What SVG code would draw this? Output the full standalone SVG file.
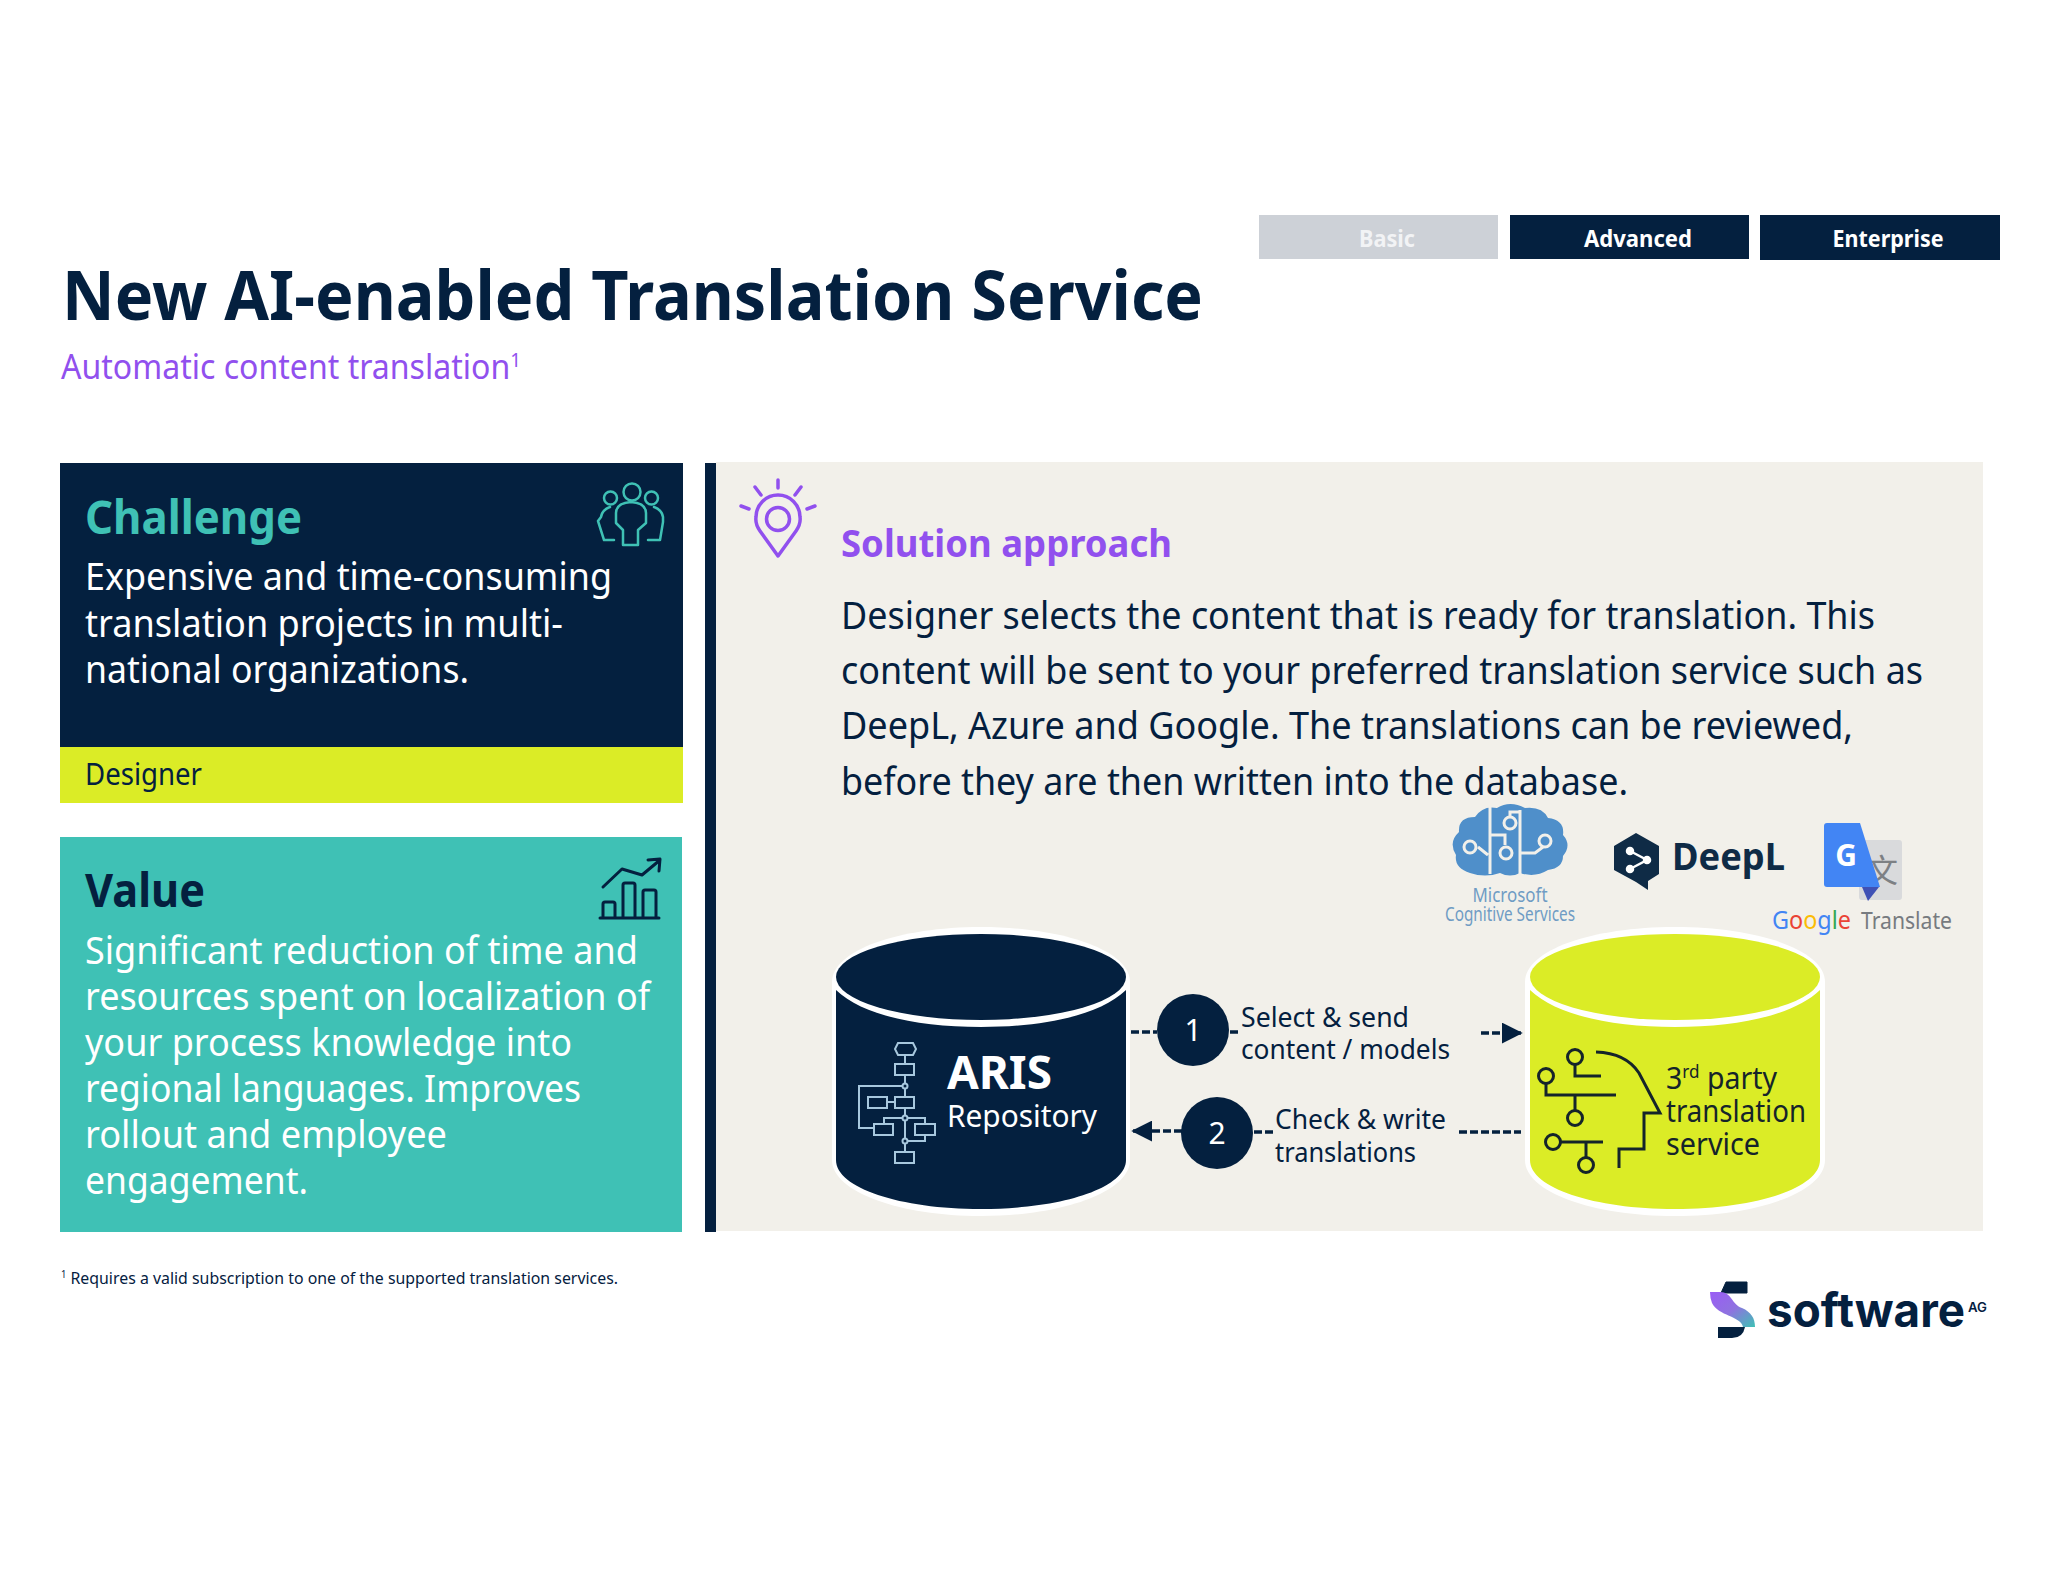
<svg xmlns="http://www.w3.org/2000/svg" width="2048" height="1582" viewBox="0 0 2048 1582">
<style>
text{font-family:"Noto Sans","Open Sans","Liberation Sans",sans-serif;fill:#04203f}
.b{font-weight:700}
.w{fill:#fff}
.t{fill:#3fc1b5}
.p{fill:#9150ee}
.body{font-size:38px}
.lbl{font-size:28px}
.tab{font-size:23px;font-weight:700;fill:#fff;text-anchor:middle}
.ic{fill:none;stroke-linecap:round;stroke-linejoin:round}
.dash{fill:none;stroke:#04203f;stroke-width:3.5;stroke-dasharray:8 3}
.fl{fill:none;stroke:#a8c8de;stroke-width:2}
.hd{fill:none;stroke:#15242a;stroke-width:3}
</style>
<defs>
<marker id="ah" markerWidth="6" markerHeight="6" refX="5.5" refY="3" orient="auto" markerUnits="strokeWidth"><path d="M0,0L6,3L0,6Z" fill="#04203f"/></marker>
<linearGradient id="lg" x1="0" y1="0" x2="1" y2="1"><stop offset="0" stop-color="#9a5cf5"/><stop offset="0.5" stop-color="#8f72e0"/><stop offset="1" stop-color="#3fc1b5"/></linearGradient>
</defs>
<rect width="2048" height="1582" fill="#fff"/>
<g id="header">
<text x="62" y="320" class="b" font-size="68" textLength="1141" lengthAdjust="spacingAndGlyphs">New AI-enabled Translation Service</text>
<text x="61" y="379" class="p" font-size="34" textLength="460" lengthAdjust="spacingAndGlyphs">Automatic content translation<tspan font-size="20" dy="-12">1</tspan></text>
</g>
<g id="tab-basic"><rect x="1259" y="215" width="239" height="44" fill="#cdd1d7"/><text x="1387" y="247" class="tab" textLength="56" lengthAdjust="spacingAndGlyphs" fill-opacity=".75">Basic</text></g>
<g id="tab-advanced"><rect x="1510" y="215" width="239" height="44" fill="#04203f"/><text x="1638" y="247" class="tab" textLength="108" lengthAdjust="spacingAndGlyphs">Advanced</text></g>
<g id="tab-enterprise"><rect x="1760" y="215" width="240" height="45" fill="#04203f"/><text x="1888" y="247" class="tab" textLength="111" lengthAdjust="spacingAndGlyphs">Enterprise</text></g>
<g id="challenge">
<rect x="60" y="463" width="623" height="285" fill="#04203f"/>
<rect x="60" y="747" width="623" height="56" fill="#dbec26"/>
<text x="85" y="534" class="b t" font-size="46" textLength="217" lengthAdjust="spacingAndGlyphs">Challenge</text>
<text x="85" y="590" class="w body" textLength="527" lengthAdjust="spacingAndGlyphs">Expensive and time-consuming</text>
<text x="85" y="637" class="w body" textLength="478" lengthAdjust="spacingAndGlyphs">translation projects in multi-</text>
<text x="85" y="683" class="w body" textLength="384" lengthAdjust="spacingAndGlyphs">national organizations.</text>
<text x="85" y="785" font-size="30" textLength="117" lengthAdjust="spacingAndGlyphs">Designer</text>
<g class="ic" stroke="#3fc1b5" stroke-width="2.5">
<circle cx="632" cy="492" r="8.5"/><circle cx="610.500" cy="498" r="6.500"/><circle cx="651.500" cy="498" r="6.500"/>
<path d="M623,545V530L616,523V513Q616,503 631,502Q646,503 646,513V523L638,530V545Z"/>
<path d="M610,507Q602,510 601,517L598,521L604,540H614M654,507Q662,510 663,517L663,522L660,540H648"/>
</g>
</g>
<g id="value">
<rect x="60" y="837" width="622" height="395" fill="#3fc1b5"/>
<text x="85" y="907" class="b" font-size="46" textLength="120" lengthAdjust="spacingAndGlyphs">Value</text>
<text x="85" y="964" class="w body" textLength="553" lengthAdjust="spacingAndGlyphs">Significant reduction of time and</text>
<text x="85" y="1010" class="w body" textLength="565" lengthAdjust="spacingAndGlyphs">resources spent on localization of</text>
<text x="85" y="1056" class="w body" textLength="487" lengthAdjust="spacingAndGlyphs">your process knowledge into</text>
<text x="85" y="1102" class="w body" textLength="496" lengthAdjust="spacingAndGlyphs">regional languages. Improves</text>
<text x="85" y="1148" class="w body" textLength="362" lengthAdjust="spacingAndGlyphs">rollout and employee</text>
<text x="85" y="1194" class="w body" textLength="223" lengthAdjust="spacingAndGlyphs">engagement.</text>
<g class="ic" stroke="#04203f" stroke-width="3">
<path d="M600,918H659M603,918V904Q603,902 605,902H613Q615,902 615,904V918M623,918V885Q623,883 625,883H633Q635,883 635,885V918M643,918V892Q643,890 645,890H654Q656,890 656,892V918"/>
<path d="M603,887L622,869L642,875L660,860M648,860L660,859L659,871"/>
</g>
</g>
<g id="solution-panel">
<rect x="705" y="463" width="11" height="769" fill="#04203f"/>
<rect x="716" y="462" width="1267" height="769" fill="#f2f0ea"/>
<g class="ic" stroke="#9150ee" stroke-width="3.500">
<path d="M778,556L760,531Q755,524 756,517A22,22 0 0 1 800,517Q801,524 796,531Z"/>
<circle cx="778" cy="519" r="11.500"/>
<path d="M778,480V488M755,487L761,495M801,487L795,495M741,506L749,509M815,506L807,509"/>
</g>
<text x="841" y="557" class="b p" font-size="38" textLength="331" lengthAdjust="spacingAndGlyphs">Solution approach</text>
<text x="841" y="629" class="body" textLength="1034" lengthAdjust="spacingAndGlyphs">Designer selects the content that is ready for translation. This</text>
<text x="841" y="684" class="body" textLength="1082" lengthAdjust="spacingAndGlyphs">content will be sent to your preferred translation service such as</text>
<text x="841" y="739" class="body" textLength="1012" lengthAdjust="spacingAndGlyphs">DeepL, Azure and Google. The translations can be reviewed,</text>
<text x="841" y="795" class="body" textLength="787" lengthAdjust="spacingAndGlyphs">before they are then written into the database.</text>
</g>
<g id="logo-microsoft">
<path d="M1470,873Q1454,868 1456,855Q1448,842 1459,832Q1458,817 1475,817Q1483,805 1497,808Q1510,800 1525,808Q1542,806 1548,818Q1565,820 1563,835Q1572,845 1563,856Q1563,868 1548,870Q1535,878 1520,873Q1510,878 1500,873Q1485,878 1470,873Z" fill="#4f8fca"/>
<g fill="none" stroke="#f2f0ea" stroke-width="3">
<path d="M1490,805V874M1490,835H1505V845M1488,855L1478,847"/>
<path d="M1520,810V874M1510,816V812H1520M1520,853H1535L1543,847"/>
<circle cx="1510" cy="823" r="6"/><circle cx="1470" cy="847" r="6"/><circle cx="1506" cy="853" r="6"/><circle cx="1545" cy="841" r="6"/>
</g>
<text x="1510" y="902" text-anchor="middle" font-size="20" style="fill:#6f9cc4" textLength="75" lengthAdjust="spacingAndGlyphs">Microsoft</text>
<text x="1510" y="921" text-anchor="middle" font-size="20" style="fill:#6f9cc4" textLength="130" lengthAdjust="spacingAndGlyphs">Cognitive Services</text>
</g>
<g id="logo-deepl">
<path d="M1636,833L1659,846V874L1648,881V890L1636,882L1614,870V846Z" fill="#0f2b46"/>
<g stroke="#fff" stroke-width="2.500" fill="#fff"><path d="M1630,851L1647,860L1630,869" fill="none"/><circle cx="1630" cy="851" r="3"/><circle cx="1647" cy="860" r="3"/><circle cx="1630" cy="869" r="3"/></g>
<text x="1672" y="870" class="b" font-size="38" style="fill:#0f2b46" textLength="113" lengthAdjust="spacingAndGlyphs">DeepL</text>
</g>
<g id="logo-google">
<rect x="1859" y="840" width="43" height="60" rx="3" fill="#d9dadc"/>
<text x="1882" y="882" text-anchor="middle" font-size="32" style="font-family:'Noto Sans CJK SC',sans-serif;fill:#7d8084">文</text>
<path d="M1862,887L1879,887L1868,901Z" fill="#3f51b5"/>
<path d="M1827,823H1860L1880,887H1827Q1824,887 1824,884V826Q1824,823 1827,823Z" fill="#4285f4"/>
<text x="1846" y="866" text-anchor="middle" class="b w" font-size="30">G</text>
<text x="1772" y="929" font-size="26" textLength="79" lengthAdjust="spacingAndGlyphs"><tspan style="fill:#4285f4">G</tspan><tspan style="fill:#ea4335">o</tspan><tspan style="fill:#fbbc05">o</tspan><tspan style="fill:#4285f4">g</tspan><tspan style="fill:#34a853">l</tspan><tspan style="fill:#ea4335">e</tspan></text>
<text x="1861" y="929" font-size="24" style="fill:#777b80" textLength="91" lengthAdjust="spacingAndGlyphs">Translate</text>
</g>
<g id="aris-repository">
<path d="M832,982C832,950 900,927 981,927C1062,927 1130,950 1130,982V1160C1130,1192 1062,1216 981,1216C900,1216 832,1192 832,1160Z" fill="#fff"/>
<path d="M836,990V1160C836,1188 900,1209 981,1209C1062,1209 1126,1188 1126,1160V990C1100,1015 1045,1027 981,1027C917,1027 862,1015 836,990Z" fill="#04203f"/>
<ellipse cx="981" cy="977" rx="145" ry="43" fill="#04203f"/>
<g>
<path class="fl" d="M898,1043H913L916,1049L913,1055H898L895,1049ZM905,1055V1064"/>
<rect class="fl" x="895" y="1064" width="19" height="11"/><path class="fl" d="M905,1075V1083M905,1089V1097"/>
<circle class="fl" cx="905" cy="1086" r="2.500"/>
<rect class="fl" x="895" y="1097" width="19" height="11"/><rect class="fl" x="868" y="1097" width="19" height="11"/><path class="fl" d="M887,1102H895M905,1108V1115"/>
<circle class="fl" cx="905" cy="1118" r="2.500"/>
<path class="fl" d="M902,1118H884V1124M908,1118H925V1124M905,1121V1138"/>
<rect class="fl" x="874" y="1124" width="19" height="11"/><rect class="fl" x="915" y="1124" width="20" height="11"/>
<path class="fl" d="M874,1128H859V1086H902M925,1135V1141H908"/>
<circle class="fl" cx="905" cy="1141" r="2.500"/><path class="fl" d="M905,1144V1152"/>
<rect class="fl" x="895" y="1152" width="19" height="11"/>
</g>
<text x="947" y="1089" class="b w" font-size="46" textLength="105" lengthAdjust="spacingAndGlyphs">ARIS</text>
<text x="947" y="1127" class="w" font-size="31" textLength="150" lengthAdjust="spacingAndGlyphs">Repository</text>
</g>
<g id="third-party">
<path d="M1525,982C1525,950 1592,927 1675,927C1758,927 1825,950 1825,982V1160C1825,1192 1758,1216 1675,1216C1592,1216 1525,1192 1525,1160Z" fill="#fff"/>
<path d="M1530,990V1160C1530,1188 1594,1209 1675,1209C1756,1209 1820,1188 1820,1160V990C1794,1015 1739,1027 1675,1027C1611,1027 1556,1015 1530,990Z" fill="#dbec26"/>
<ellipse cx="1675" cy="977" rx="145" ry="43" fill="#dbec26"/>
<g class="hd">
<circle cx="1575" cy="1057" r="7.500"/><path d="M1575,1064V1076H1601"/>
<path d="M1596,1052Q1626,1053 1639,1073L1660,1113H1644V1149H1619V1168"/>
<circle cx="1546" cy="1076" r="7.500"/><path d="M1546,1083V1095H1616M1575,1095V1111"/>
<circle cx="1575" cy="1118" r="7.500"/>
<circle cx="1553" cy="1142" r="7.500"/><path d="M1561,1142H1603M1586,1142V1158"/>
<circle cx="1586" cy="1165" r="7.500"/>
</g>
<text x="1666" y="1089" font-size="30" style="fill:#15242a" textLength="111" lengthAdjust="spacingAndGlyphs">3<tspan font-size="18" dy="-11">rd</tspan><tspan dy="11"> party</tspan></text>
<text x="1666" y="1122" font-size="30" style="fill:#15242a" textLength="140" lengthAdjust="spacingAndGlyphs">translation</text>
<text x="1666" y="1155" font-size="30" style="fill:#15242a" textLength="94" lengthAdjust="spacingAndGlyphs">service</text>
</g>
<g id="connectors">
<path class="dash" d="M1131,1032H1157M1230,1032H1240"/>
<path class="dash" d="M1481,1033H1521" marker-end="url(#ah)"/>
<path class="dash" d="M1182,1131H1133" marker-end="url(#ah)"/>
<path class="dash" d="M1254,1132H1274M1459,1132H1521"/>
</g>
<g id="step-1"><circle cx="1193" cy="1030" r="36" fill="#04203f"/><text x="1193" y="1041" text-anchor="middle" class="w" font-size="30">1</text>
<text x="1241" y="1027" class="lbl" textLength="168" lengthAdjust="spacingAndGlyphs">Select &amp; send</text>
<text x="1241" y="1059" class="lbl" textLength="209" lengthAdjust="spacingAndGlyphs">content / models</text></g>
<g id="step-2"><circle cx="1217" cy="1133" r="36" fill="#04203f"/><text x="1217" y="1144" text-anchor="middle" class="w" font-size="30">2</text>
<text x="1275" y="1129" class="lbl" textLength="171" lengthAdjust="spacingAndGlyphs">Check &amp; write</text>
<text x="1275" y="1162" class="lbl" textLength="141" lengthAdjust="spacingAndGlyphs">translations</text></g>
<g id="footnote"><text x="61" y="1284" font-size="17" textLength="557" lengthAdjust="spacingAndGlyphs"><tspan font-size="10" dy="-6">1</tspan><tspan dy="6"> Requires a valid subscription to one of the supported translation services.</tspan></text></g>
<g id="logo-software">
<path d="M1726,1282H1747V1293H1721Z" fill="#04203f" stroke="#04203f" stroke-linejoin="round" stroke-width="1"/>
<path d="M1710,1292H1720C1732,1292 1731,1304 1742,1308C1751,1312 1755,1318 1755,1327H1743C1741,1316 1718,1316 1712,1303Q1710,1298 1710,1292Z" fill="url(#lg)"/>
<path d="M1718,1327H1745Q1743,1338 1732,1338H1718Z" fill="#04203f"/>
<text x="1767" y="1327" font-size="47" style="font-family:Inter,'Noto Sans',sans-serif;font-weight:700;fill:#04203f" textLength="198" lengthAdjust="spacingAndGlyphs">software</text>
<text x="1968" y="1312" font-size="13" style="font-family:Inter,'Noto Sans',sans-serif;font-weight:600" textLength="19" lengthAdjust="spacingAndGlyphs">AG</text>
</g>
</svg>
